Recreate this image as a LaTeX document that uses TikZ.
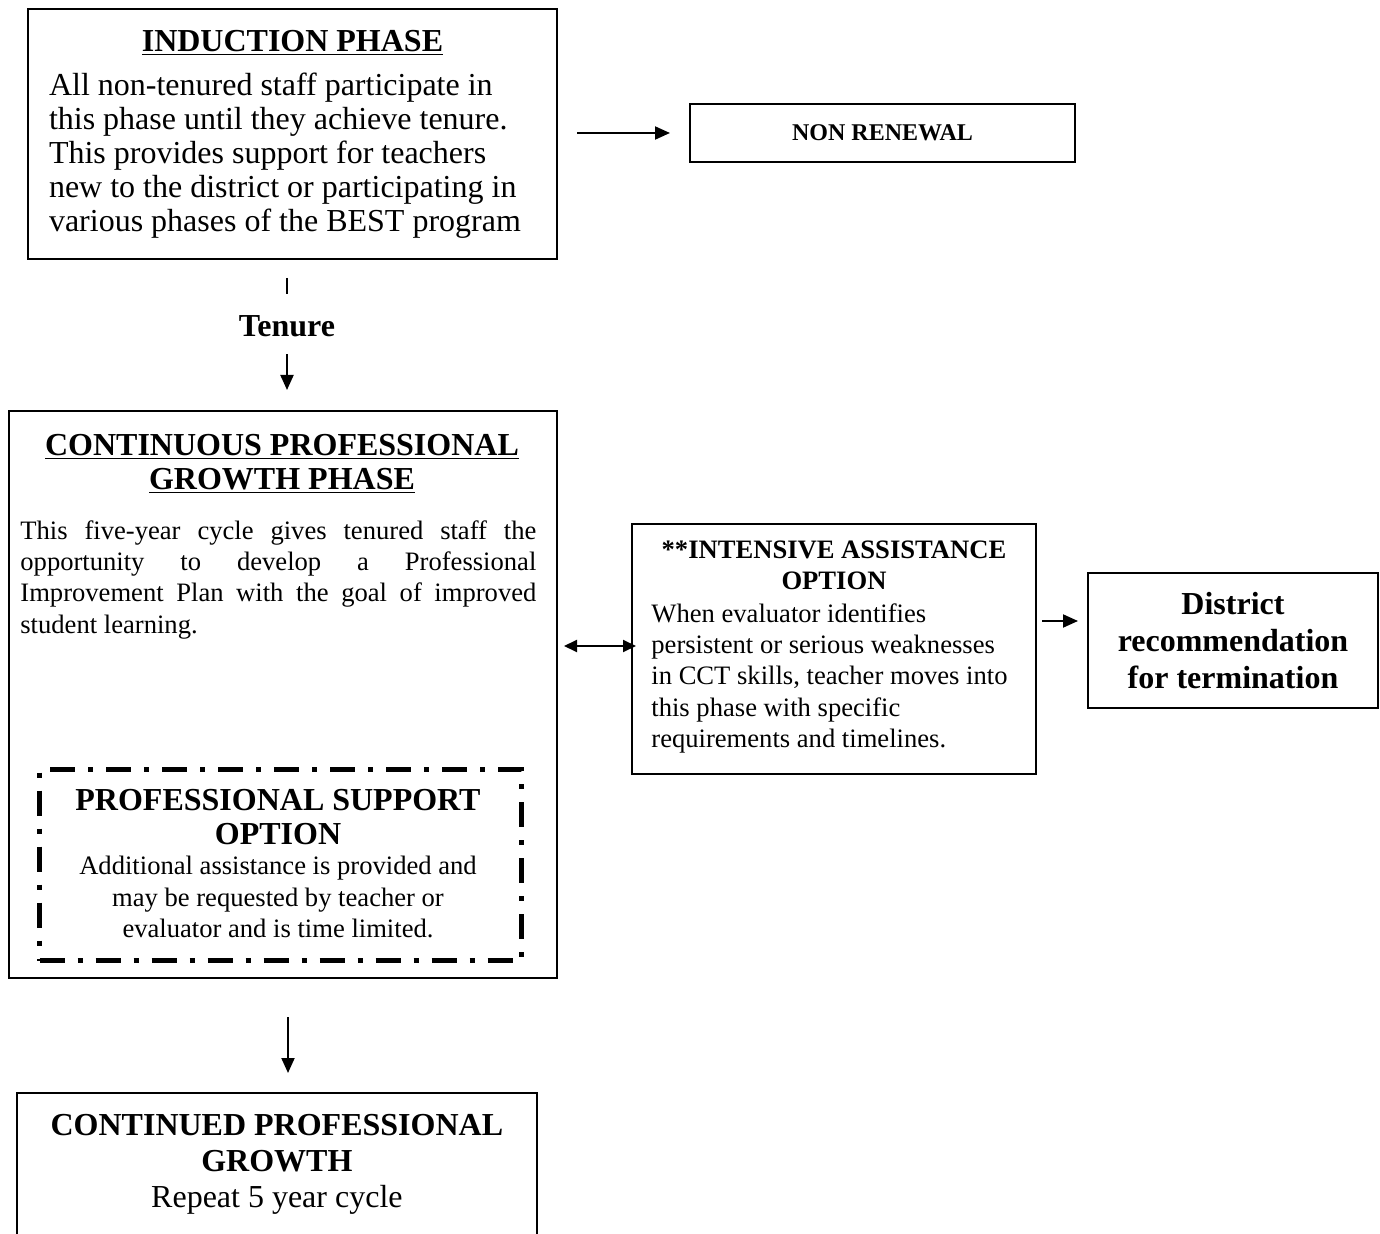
\documentclass[tikz,border=0pt]{standalone}
\usepackage{fontspec}
\setmainfont{Liberation Serif}
\usetikzlibrary{positioning,calc,arrows.meta}
\newcommand{\phasefont}{\fontsize{16}{17}\selectfont}
\newcommand{\notefont}{\fontsize{13.3}{15.7}\selectfont}
\tikzset{
	phase/.style={draw=black,line width=1pt,inner sep=0pt},
	txt/.style={inner sep=0pt},
	flow/.style={line width=1pt,-{Triangle[length=7.5pt,width=6.5pt]}},
	twoway/.style={line width=1pt,{Triangle[length=6.5pt,width=6pt]}-{Triangle[length=6.5pt,width=6pt]}},
	dashdot/.style={draw=black,line width=2.5pt,dash pattern=on 12.5pt off 6.5pt on 2.5pt off 6.5pt},
}

\begin{document}
\begin{tikzpicture}[x=0.5pt,y=-0.5pt]
			\fill[white] (0,0) rectangle (1380,1234);
			\useasboundingbox (0,0) rectangle (1380,1234);
			% induction phase
			\node[phase,anchor=north west,minimum width=264.5pt,minimum height=125pt,
				inner xsep=10.5pt,text width=243.5pt,align=flush left,font=\phasefont] (induction) at (27,8)
				{\makebox[243.5pt]{\underline{\textbf{INDUCTION PHASE}}}\\[5pt]
				All non-tenured staff participate in\\
				this phase until they achieve tenure.\\
				This provides support for teachers\\
				new to the district or participating in\\
				various phases of the BEST program};
			\node[phase,anchor=north west,minimum width=192.5pt,minimum height=29pt,
				font=\fontsize{12}{14}\selectfont\bfseries] (nonrenewal) at (689,103) {NON RENEWAL};
			\node[txt,font=\phasefont\bfseries] (tenure) at (287,326) {Tenure};
			% continuous growth phase
			\node[phase,anchor=north west,minimum width=274pt,minimum height=283.5pt] (cpg) at (8,410) {};
			\node[txt,anchor=north,align=center,font=\phasefont\bfseries] (cpgtitle) at (282,434)
				{\underline{CONTINUOUS PROFESSIONAL}\\\underline{GROWTH PHASE}};
			\node[txt,anchor=north west,text width=258pt,align=justify,font=\notefont] (cpgtext) at (20,520)
				{This five-year cycle gives tenured staff the\linebreak
				opportunity to develop a Professional\linebreak
				Improvement Plan with the goal of improved\linebreak
				student learning.};
			\node[dashdot,anchor=north west,minimum width=241pt,minimum height=95.5pt,inner sep=0pt] (support) at (37,767) {};
			\node[txt,align=center,font=\phasefont\bfseries,anchor=north] (supporttitle) at (278,789)
				{PROFESSIONAL SUPPORT\\OPTION};
			\node[txt,align=center,font=\notefont,anchor=north] (supporttext) at (278,856)
				{Additional assistance is provided and\\may be requested by teacher or\\evaluator and is time limited.};
			% intensive assistance
			\node[phase,anchor=north west,minimum width=202pt,minimum height=125pt] (intensive) at (631,523) {};
			\node[txt,anchor=north,align=center,font=\notefont\bfseries] (intensivetitle) at (834,540)
				{**INTENSIVE ASSISTANCE\\OPTION};
			\node[txt,anchor=north west,align=left,font=\notefont] (intensivetext) at (651,603)
				{When evaluator identifies\\
				persistent or serious weaknesses\\
				in CCT skills, teacher moves into\\
				this phase with specific\\
				requirements and timelines.};
			\node[phase,anchor=north west,minimum width=145pt,minimum height=67.5pt,align=center,
				font=\fontsize{16}{18.5}\selectfont\bfseries] (district) at (1087,572)
				{District\\recommendation\\for termination};
			% next cycle, box runs off the page
			\node[txt,anchor=north west,minimum width=259.5pt,minimum height=70.5pt,align=center,
				font=\fontsize{16}{18}\selectfont] (continued) at (17,1093)
				{\textbf{CONTINUED PROFESSIONAL}\\\textbf{GROWTH}\\Repeat 5 year cycle};
			\draw[line width=1pt] (continued.south west) -- (continued.north west) -- (continued.north east) -- (continued.south east);
			% connectors
			\draw[flow,shorten <=9.5pt,shorten >=9.5pt] (induction.east |- nonrenewal.west) -- (nonrenewal.west);
			\draw[line width=1pt,shorten <=9pt,shorten >=10.5pt] (induction.south -| tenure.north) -- (tenure.north);
			\draw[flow,shorten <=8.5pt,shorten >=10pt] (tenure.south) -- (tenure.south |- cpg.north);
			\draw[twoway,shorten <=3pt,shorten >=-2.5pt] ([yshift=1.5pt]cpg.east |- intensive.west) -- ([yshift=1.5pt]intensive.west);
			\draw[flow,shorten <=2.5pt,shorten >=4.5pt] ([yshift=14pt]intensive.east) -- ([yshift=9.75pt]district.west);
			\draw[flow,shorten <=19pt,shorten >=10pt] ([xshift=2.5pt]cpg.south) -- ([xshift=2.5pt]cpg.south |- continued.north);
		\end{tikzpicture}
\end{document}
